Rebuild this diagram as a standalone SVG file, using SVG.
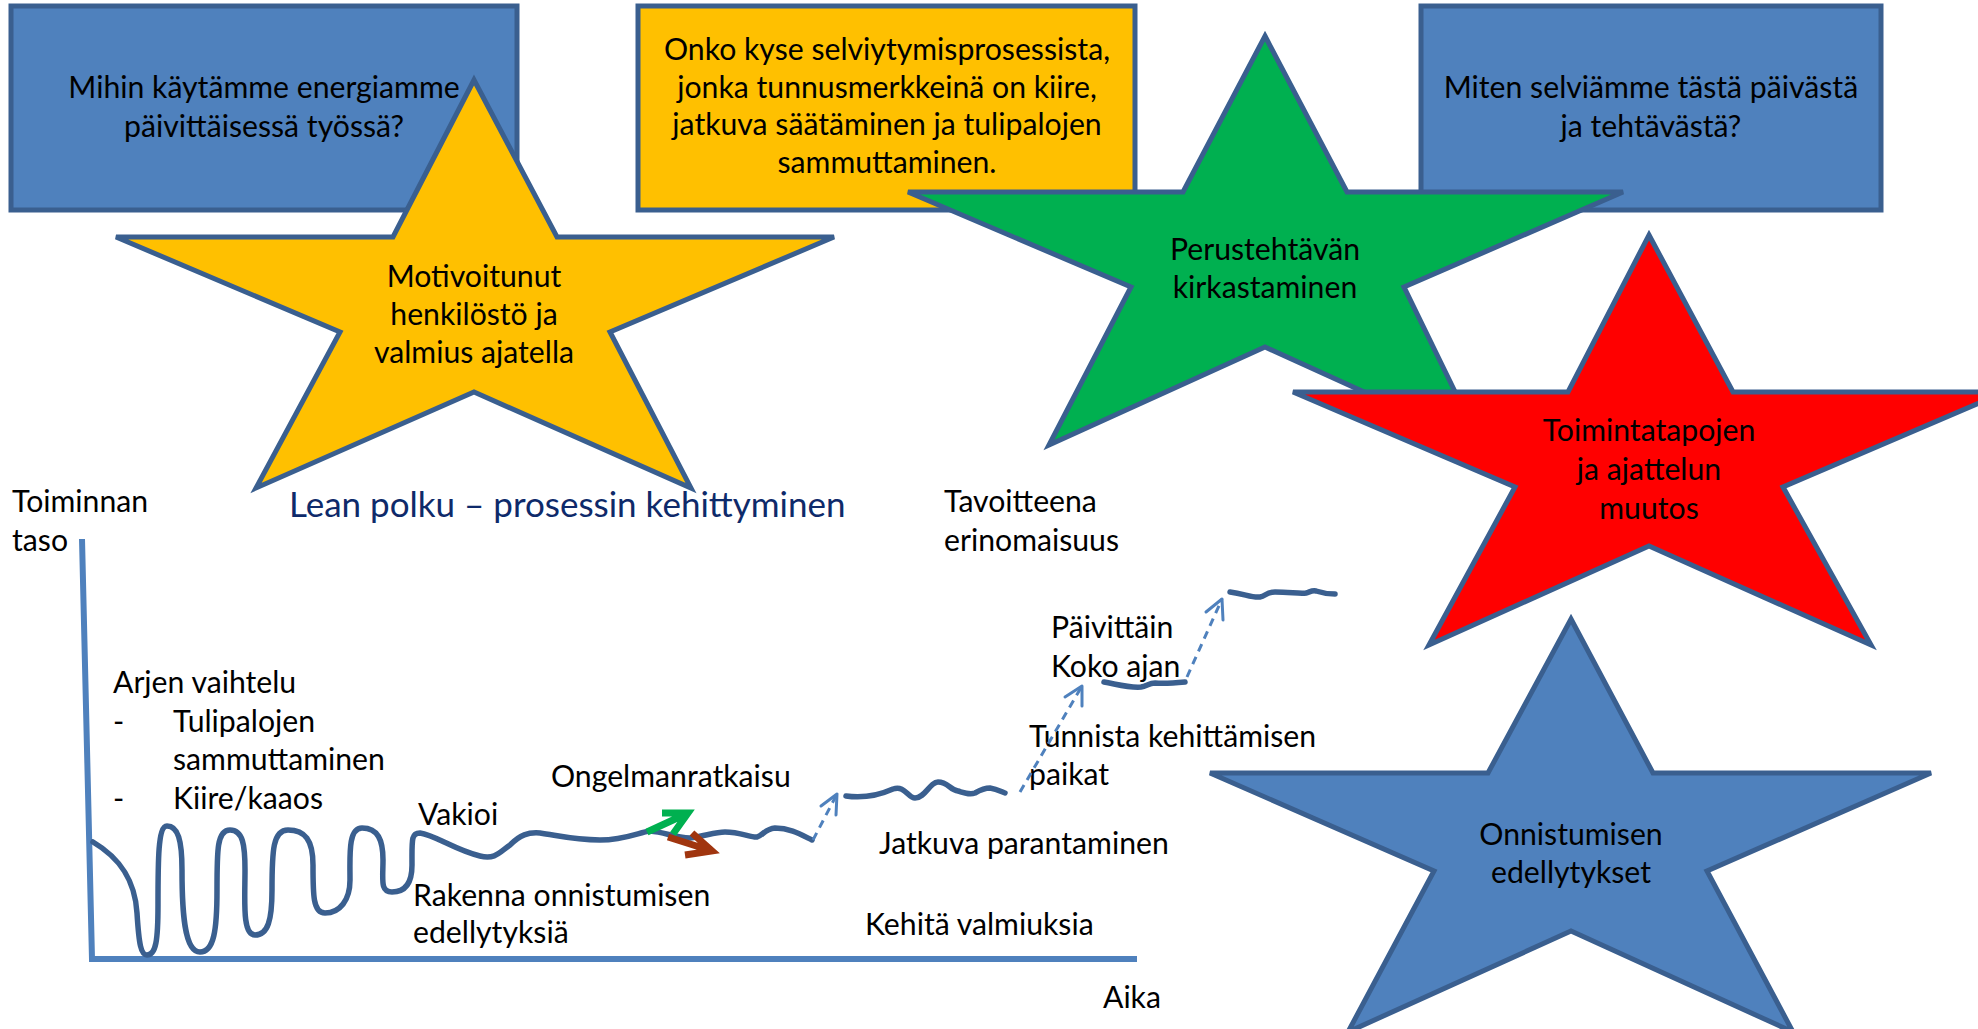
<svg xmlns="http://www.w3.org/2000/svg" width="1978" height="1029" viewBox="0 0 1978 1029">
<style>
.box{stroke:#3A5F8F;stroke-width:5}
.star{stroke:#3A5F8F;stroke-width:5;stroke-linejoin:miter}
.t{font-family:Lato,"Open Sans",sans-serif;font-size:30.2px;fill:#000}
.c{text-anchor:middle}
.title{font-family:Lato,"Open Sans",sans-serif;font-size:35px;fill:#0E2A6A}
.wave{fill:none;stroke:#3A5F8F;stroke-width:5.5;stroke-linecap:round;stroke-linejoin:round}
.axis{fill:none;stroke:#4F81BD;stroke-width:6}
.dash{fill:none;stroke:#4F81BD;stroke-width:3;stroke-dasharray:8 6}
.head{fill:none;stroke:#4F81BD;stroke-width:3;stroke-linecap:round;stroke-linejoin:round}
</style>
<rect width="1978" height="1029" fill="#fff"/>

<g id="box-energia">
<rect class="box" x="11" y="6" width="506" height="204" fill="#4F81BD"/>
<text class="t c" x="264" y="98">Mihin käytämme energiamme</text>
<text class="t c" x="264" y="137">päivittäisessä työssä?</text>
</g>

<g id="box-selviytyminen">
<rect class="box" x="638" y="6" width="497" height="204" fill="#FFC000"/>
<text class="t c" x="887" y="60">Onko kyse selviytymisprosessista,</text>
<text class="t c" x="887" y="98">jonka tunnusmerkkeinä on kiire,</text>
<text class="t c" x="887" y="135">jatkuva säätäminen ja tulipalojen</text>
<text class="t c" x="887" y="173">sammuttaminen.</text>
</g>

<g id="box-selviamme">
<rect class="box" x="1421" y="6" width="460" height="204" fill="#4F81BD"/>
<text class="t c" x="1651" y="98">Miten selviämme tästä päivästä</text>
<text class="t c" x="1651" y="137">ja tehtävästä?</text>
</g>

<g id="star-motivoitunut">
<polygon class="star" fill="#FFC000" points="474,80 557,237 834,237 610,332 691,488 474,392 256,488 340,332 116,237 393,237"/>
<text class="t c" x="474" y="287">Motivoitunut</text>
<text class="t c" x="474" y="325">henkilöstö ja</text>
<text class="t c" x="474" y="363">valmius ajatella</text>
</g>

<g id="star-perustehtava">
<polygon class="star" fill="#00B050" points="1265,36 1347,192 1623,192 1404,287 1481,445 1265,347 1049,445 1131,287 908,192 1183,192"/>
<text class="t c" x="1265" y="260">Perustehtävän</text>
<text class="t c" x="1265" y="298">kirkastaminen</text>
</g>

<g id="star-toimintatavat">
<polygon class="star" fill="#FF0000" points="1649,235 1733,392 2005,392 1783,487 1871,645 1649,546 1429,645 1515,487 1293,392 1568,392"/>
<text class="t c" x="1649" y="441">Toimintatapojen</text>
<text class="t c" x="1649" y="480">ja ajattelun</text>
<text class="t c" x="1649" y="519">muutos</text>
</g>

<g id="star-onnistuminen">
<polygon class="star" fill="#4F81BD" points="1571,619 1653,773 1931,773 1707,871 1793,1032 1571,931 1348,1032 1434,871 1210,773 1488,773"/>
<text class="t c" x="1571" y="845">Onnistumisen</text>
<text class="t c" x="1571" y="883">edellytykset</text>
</g>

<g id="title">
<text class="title" x="289" y="517">Lean polku – prosessin kehittyminen</text>
</g>

<g id="axes">
<path class="axis" d="M82,539 L92,959 L1137,959"/>
<text class="t" x="12" y="512">Toiminnan</text>
<text class="t" x="12" y="551">taso</text>
<text class="t" x="1103" y="1008">Aika</text>
</g>

<g id="labels">
<text class="t" x="113" y="693">Arjen vaihtelu</text>
<text class="t" x="113" y="732">-</text>
<text class="t" x="173" y="732">Tulipalojen</text>
<text class="t" x="173" y="770">sammuttaminen</text>
<text class="t" x="113" y="809">-</text>
<text class="t" x="173" y="809">Kiire/kaaos</text>
<text class="t" x="418" y="825">Vakioi</text>
<text class="t" x="551" y="787">Ongelmanratkaisu</text>
<text class="t" x="413" y="906">Rakenna onnistumisen</text>
<text class="t" x="413" y="943">edellytyksiä</text>
<text class="t" x="944" y="512">Tavoitteena</text>
<text class="t" x="944" y="551">erinomaisuus</text>
<text class="t" x="1051" y="638">Päivittäin</text>
<text class="t" x="1051" y="677">Koko ajan</text>
<text class="t" x="1029" y="747">Tunnista kehittämisen</text>
<text class="t" x="1029" y="785">paikat</text>
<text class="t" x="879" y="854">Jatkuva parantaminen</text>
<text class="t" x="865" y="935">Kehitä valmiuksia</text>
</g>

<g id="connectors">
<path class="wave" d="M93,842 C120,858 135,880 137,913 C139,945 141,955 147,955 C156,955 158,940 158,905 C158,860 158,826 167,826 C178,826 182,840 182,870 C182,910 184,952 200,952 C214,952 217,930 217,890 C217,850 217,830 230,830 C243,830 245,845 245,870 C245,900 242,935 255,935 C268,935 272,920 272,890 C272,850 273,830 288,830 C305,830 313,840 313,865 C313,895 313,913 325,913 C340,913 350,900 350,880 C350,855 348,828 362,828 C378,828 383,840 383,860 C383,880 380,892 392,892 C405,892 412,883 412,865 C412,840 411,833 420,833 C435,835 455,850 480,856 C495,860 500,852 510,845 C520,835 528,832 540,833 C560,836 575,840 600,840 C625,840 640,832 650,831 C665,832 675,838 690,838 C705,836 715,832 725,832 C740,832 752,838 757,837 C762,836 765,829 775,828 C790,828 800,834 812,840"/>
<path class="wave" d="M846,796 C860,798 875,797 893,789 C905,785 908,798 915,798 C925,798 930,782 938,782 C948,782 950,790 958,791 C965,793 970,795 975,793 C982,789 985,788 990,788 C997,789 1002,792 1005,793"/>
<path class="wave" d="M1104,682 C1120,685 1130,688 1141,687 C1147,686 1149,683 1155,683 C1165,684 1175,683 1185,682"/>
<path class="wave" d="M1230,592 C1245,594 1252,598 1260,597 C1266,596 1266,592 1275,592 C1290,592 1300,594 1306,593 C1310,592 1312,590 1316,591 C1322,593 1328,594 1335,594"/>

<path class="dash" d="M813,840 L837,794"/>
<path class="head" d="M821,806 L837,794 L836,815"/>
<path class="dash" d="M1020,792 L1082,686"/>
<path class="head" d="M1065,697 L1082,686 L1082,706"/>
<path class="dash" d="M1187,677 L1222,599"/>
<path class="head" d="M1206,612 L1222,599 L1223,620"/>

<g fill="none" stroke-width="7" stroke-linecap="butt" stroke-linejoin="miter">
<path stroke="#00B050" d="M647,832 L686,814 M662,813 L688,813 L673,834"/>
<path stroke="#A0350F" d="M668,837 L709,850 M685,855 L712,851 L692,833"/>
</g>
</g>
</svg>
